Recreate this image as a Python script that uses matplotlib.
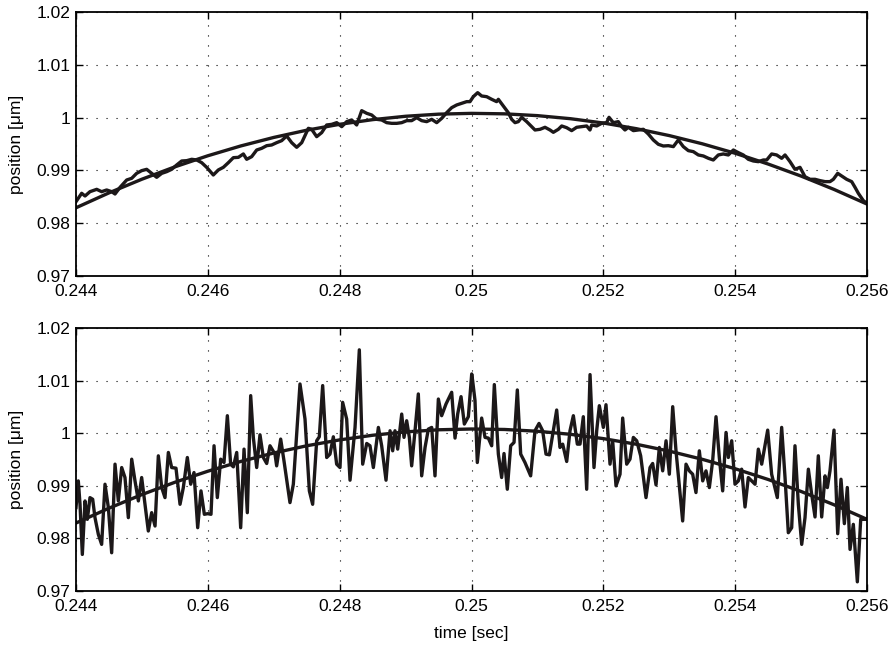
import matplotlib.pyplot as plt
from matplotlib.ticker import FuncFormatter

# fitted parabola (same fit drawn in both panels)
fit_t = [0.2440, 0.2445, 0.2450, 0.2455, 0.2460, 0.2465, 0.2470, 0.2475, 0.2480,
         0.2485, 0.2490, 0.2495, 0.2500, 0.2505, 0.2510, 0.2515, 0.2520, 0.2525,
         0.2530, 0.2535, 0.2540, 0.2545, 0.2550, 0.2555, 0.2560]
fit_pos = [0.98292, 0.98574, 0.98833, 0.99067, 0.99277, 0.99463, 0.99624, 0.99761,
           0.99873, 0.99961, 1.00025, 1.00065, 1.00080, 1.00071, 1.00037, 0.99979,
           0.99897, 0.99790, 0.99659, 0.99504, 0.99324, 0.99120, 0.98892, 0.98639,
           0.98362]

# filtered position measurement
top_t = [0.244000, 0.244086, 0.244137, 0.244212, 0.244314, 0.244389, 0.244465, 0.244541,
         0.244592, 0.244668, 0.244769, 0.244845, 0.244920, 0.244996, 0.245072, 0.245148,
         0.245224, 0.245300, 0.245376, 0.245451, 0.245527, 0.245603, 0.245679, 0.245755,
         0.245831, 0.245907, 0.245982, 0.246083, 0.246159, 0.246235, 0.246311, 0.246387,
         0.246463, 0.246539, 0.246589, 0.246665, 0.246741, 0.246817, 0.246893, 0.246968,
         0.247044, 0.247120, 0.247196, 0.247272, 0.247348, 0.247424, 0.247525, 0.247575,
         0.247651, 0.247727, 0.247803, 0.247879, 0.247955, 0.248031, 0.248106, 0.248182,
         0.248258, 0.248334, 0.248410, 0.248486, 0.248561, 0.248637, 0.248713, 0.248789,
         0.248865, 0.248941, 0.249017, 0.249092, 0.249168, 0.249244, 0.249320, 0.249396,
         0.249472, 0.249548, 0.249623, 0.249699, 0.249775, 0.249851, 0.249927,
         0.249977, 0.250027, 0.250093, 0.250154, 0.250230, 0.250306, 0.250381, 0.250407,
         0.250483, 0.250558, 0.250609, 0.250660, 0.250710, 0.250761, 0.250837, 0.250912,
         0.250963, 0.251039, 0.251115, 0.251191, 0.251241, 0.251317, 0.251368, 0.251443,
         0.251519, 0.251595, 0.251671, 0.251747, 0.251797, 0.251823, 0.251899, 0.251974,
         0.252050, 0.252086, 0.252151, 0.252227, 0.252278, 0.252328, 0.252379, 0.252455,
         0.252531, 0.252606, 0.252682, 0.252758, 0.252834, 0.252910, 0.252986, 0.253062,
         0.253137, 0.253213, 0.253289, 0.253365, 0.253441, 0.253517, 0.253593, 0.253668,
         0.253744, 0.253820, 0.253896, 0.253972, 0.254048, 0.254123, 0.254199, 0.254275,
         0.254351, 0.254427, 0.254478, 0.254553, 0.254629, 0.254705, 0.254756, 0.254832,
         0.254907, 0.254983, 0.255059, 0.255135, 0.255211, 0.255287, 0.255363, 0.255438,
         0.255489, 0.255555, 0.255615, 0.255691, 0.255767, 0.255818, 0.255868, 0.255944,
         0.256000]
top_pos = [0.98408, 0.98566, 0.98515, 0.98597, 0.98641, 0.98597, 0.98629, 0.98597,
           0.98553, 0.98679, 0.98818, 0.98850, 0.98944, 0.98995, 0.99020, 0.98944,
           0.98869, 0.98944, 0.98976, 0.99020, 0.99102, 0.99178, 0.99184, 0.99210,
           0.99197, 0.99146, 0.99058, 0.98913, 0.99008, 0.99058, 0.99146, 0.99241,
           0.99247, 0.99311, 0.99210, 0.99260, 0.99386, 0.99418, 0.99468, 0.99481,
           0.99525, 0.99563, 0.99652, 0.99525, 0.99437, 0.99525, 0.99797, 0.99778,
           0.99639, 0.99715, 0.99860, 0.99872, 0.99904, 0.99828, 0.99923, 0.99955,
           0.99860, 1.00131, 1.00081, 1.00049, 0.99967, 0.99955, 0.99904, 0.99891,
           0.99891, 0.99904, 0.99942, 0.99942, 0.99999, 0.99942, 0.99923, 0.99967,
           0.99904, 0.99986, 1.00093, 1.00188, 1.00239, 1.00270, 1.00302,
           1.00302, 1.00396, 1.00472, 1.00409, 1.00396, 1.00346, 1.00302, 1.00346,
           1.00220, 1.00093, 0.99967, 0.99904, 0.99923, 1.00005, 0.99923, 0.99828,
           0.99765, 0.99778, 0.99816, 0.99765, 0.99721, 0.99778, 0.99841, 0.99809,
           0.99753, 0.99816, 0.99828, 0.99841, 0.99765, 0.99860, 0.99841, 0.99891,
           0.99904, 1.00005, 0.99904, 0.99923, 0.99828, 0.99765, 0.99816, 0.99753,
           0.99765, 0.99778, 0.99689, 0.99576, 0.99494, 0.99462, 0.99468, 0.99450,
           0.99576, 0.99450, 0.99374, 0.99355, 0.99292, 0.99273, 0.99229, 0.99197,
           0.99292, 0.99311, 0.99292, 0.99386, 0.99336, 0.99292, 0.99210, 0.99178,
           0.99165, 0.99197, 0.99197, 0.99311, 0.99292, 0.99229, 0.99292, 0.99165,
           0.99020, 0.99058, 0.98881, 0.98831, 0.98831, 0.98806, 0.98787, 0.98787,
           0.98831, 0.98944, 0.98894, 0.98831, 0.98787, 0.98679, 0.98566, 0.98427,
           0.98376]

# raw position measurement
bot_t = [0.244000, 0.244035, 0.244061, 0.244096, 0.244137, 0.244172, 0.244212, 0.244253,
         0.244288, 0.244339, 0.244389, 0.244440, 0.244491, 0.244541, 0.244592, 0.244642,
         0.244693, 0.244743, 0.244794, 0.244845, 0.244895, 0.244946, 0.244996, 0.245047,
         0.245097, 0.245148, 0.245199, 0.245249, 0.245300, 0.245350, 0.245401, 0.245451,
         0.245517, 0.245578, 0.245628, 0.245689, 0.245740, 0.245790, 0.245846, 0.245896,
         0.245947, 0.245998, 0.246048, 0.246094, 0.246144, 0.246195, 0.246245, 0.246296,
         0.246346, 0.246387, 0.246438, 0.246498, 0.246549, 0.246599, 0.246650, 0.246690,
         0.246741, 0.246791, 0.246842, 0.246893, 0.246943, 0.247019,
         0.247044, 0.247105, 0.247155, 0.247246, 0.247297, 0.247398, 0.247474, 0.247540,
         0.247590, 0.247651, 0.247691, 0.247742, 0.247803, 0.247853, 0.247904, 0.247954,
         0.248005, 0.248045, 0.248106, 0.248157, 0.248233, 0.248298, 0.248349, 0.248410,
         0.248460, 0.248511, 0.248587, 0.248637, 0.248703, 0.248764, 0.248804, 0.248839,
         0.248880, 0.248941, 0.248976, 0.249016, 0.249057, 0.249092, 0.249143, 0.249193,
         0.249244, 0.249295, 0.249345, 0.249396, 0.249446, 0.249497, 0.249547, 0.249613,
         0.249699, 0.249750, 0.249790, 0.249841, 0.249891, 0.249952, 0.250003,
         0.250017, 0.250053, 0.250088, 0.250154, 0.250205, 0.250255, 0.250306, 0.250346,
         0.250407, 0.250457, 0.250493, 0.250543, 0.250594, 0.250645, 0.250695, 0.250746,
         0.250811, 0.250897, 0.250963, 0.251024, 0.251079, 0.251130, 0.251181, 0.251241,
         0.251292, 0.251342, 0.251383, 0.251444, 0.251494, 0.251545, 0.251605, 0.251646,
         0.251696, 0.251747, 0.251798, 0.251858, 0.251899, 0.251939, 0.252000, 0.252040,
         0.252101, 0.252141, 0.252192, 0.252253, 0.252293, 0.252354, 0.252404, 0.252455,
         0.252506, 0.252566, 0.252647, 0.252708, 0.252748, 0.252799, 0.252849, 0.252900,
         0.252951, 0.253001, 0.253052,
         0.253102, 0.253203, 0.253254, 0.253304, 0.253355, 0.253405, 0.253456, 0.253507,
         0.253557, 0.253608, 0.253658, 0.253709, 0.253759, 0.253810, 0.253861, 0.253896,
         0.253947, 0.253997, 0.254048, 0.254098, 0.254149, 0.254199, 0.254250, 0.254301,
         0.254351, 0.254402, 0.254493, 0.254553, 0.254639, 0.254705, 0.254756, 0.254806,
         0.254857, 0.254907, 0.254958, 0.255009, 0.255059, 0.255110, 0.255160, 0.255211,
         0.255261, 0.255312, 0.255363, 0.255398, 0.255438, 0.255499, 0.255555, 0.255605,
         0.255656, 0.255701, 0.255742, 0.255792, 0.255853, 0.255904, 0.255969, 0.256000]
bot_pos = [0.98585, 0.99093, 0.98648, 0.97695, 0.98712, 0.98362, 0.98775, 0.98744,
           0.98394, 0.98076, 0.97886, 0.99030, 0.98585, 0.97727, 0.99411, 0.98712,
           0.99347, 0.99157, 0.98394, 0.99506, 0.99093, 0.98712, 0.99157, 0.98648,
           0.98140, 0.98489, 0.98235, 0.99570, 0.98966, 0.98775, 0.99634, 0.99347,
           0.99335, 0.98648, 0.98966, 0.99538, 0.99030, 0.99252, 0.98203, 0.98903,
           0.98458, 0.98470, 0.98458, 0.99761, 0.98775, 0.99506, 0.99443, 1.00333,
           0.99411, 0.99360, 0.99634, 0.98203, 0.99697, 0.98489, 1.00714, 0.99920,
           0.99347, 0.99970, 0.99538, 0.99424, 0.99761, 0.99602,
           0.99379, 0.99888, 0.99475, 0.98680, 0.99030, 1.00936, 1.00269, 0.98903,
           0.98648, 0.99856, 0.99932, 1.00905, 0.99538, 0.99602, 0.99932, 0.99411,
           0.99347, 1.00587, 1.00269, 0.99106, 1.00110, 1.01585, 0.99411, 0.99805,
           0.99761, 0.99347, 1.00110, 0.99761, 0.99106, 1.00047, 0.99665, 1.00047,
           0.99697, 1.00364, 0.99920, 1.00237, 0.99920, 0.99379, 1.00047, 1.00746,
           0.99189, 0.99729, 1.00078, 1.00110, 0.99189, 1.00650, 1.00333, 1.00555,
           1.00778, 0.99907, 1.00364, 1.00695, 1.00174, 1.00314, 1.01127,
           1.01000, 1.00619, 0.99443, 1.00288, 0.99920, 0.99907, 0.99761, 1.00924,
           0.99602, 0.99157, 0.99614, 0.98934, 0.99761, 0.99824, 1.00822, 0.99602,
           0.99443, 0.99189, 1.00047, 1.00186, 1.00047, 0.99602, 0.99589, 1.00047,
           1.00441, 0.99729, 0.99792, 0.99462, 1.00047, 1.00333, 0.99792, 0.99792,
           1.00314, 0.98934, 1.01114, 0.99347, 1.00047, 1.00523, 1.00110, 1.00542,
           0.99411, 0.99856, 0.98998, 0.99220, 1.00288, 0.99411, 0.99506, 0.99920,
           0.99856, 0.99570, 0.98775, 0.99347, 0.99424, 0.99017, 0.99729, 0.99284,
           0.99856, 0.99220, 1.00504,
           0.99665, 0.98331, 0.99411, 0.99284, 0.99220, 0.98871, 0.99665, 0.99093,
           0.99284, 0.98966, 0.99475, 1.00314, 0.99538, 0.98903, 1.00015, 0.99538,
           0.99856, 0.99030, 0.99093, 0.99316, 0.98597, 0.99157, 0.99093, 0.99030,
           0.99697, 0.99411, 1.00059, 0.99220, 0.98775, 1.00110, 0.99157, 0.98108,
           0.98203, 0.99761, 0.98648, 0.97886, 0.98394, 0.99316, 0.98839, 0.98407,
           0.99570, 0.98407, 0.99189, 0.98966, 0.99284, 1.00059, 0.98089, 0.99125,
           0.98280, 0.98966, 0.97790, 0.98267, 0.97174, 0.98362, 0.98362, 0.98362]

xticks = [0.244, 0.246, 0.248, 0.25, 0.252, 0.254, 0.256]
yticks = [0.97, 0.98, 0.99, 1.0, 1.01, 1.02]

line_color = "#1c1819"

plt.rcParams["font.family"] = ["Liberation Sans", "DejaVu Sans"]

fig = plt.figure(figsize=(8.91, 6.48), dpi=100)
ax_top = fig.add_axes([0.0853, 0.5741, 0.8878, 0.4074])
ax_bot = fig.add_axes([0.0853, 0.0880, 0.8878, 0.4058])

fmt = FuncFormatter(lambda v, pos: f"{v:g}")

for ax, t, pos in [(ax_top, top_t, top_pos), (ax_bot, bot_t, bot_pos)]:
    ax.plot(t, pos, color=line_color, linewidth=2.4)
    ax.plot(fit_t, fit_pos, color=line_color, linewidth=2.4)
    ax.set_xlim(0.244, 0.256)
    ax.set_ylim(0.97, 1.02)
    ax.set_xticks(xticks)
    ax.set_yticks(yticks)
    ax.xaxis.set_major_formatter(fmt)
    ax.yaxis.set_major_formatter(fmt)
    ax.grid(True, color="black", linestyle=(0, (1, 8)), linewidth=0.8)
    ax.tick_params(direction="in", top=True, right=True, length=5, width=1,
                   labelsize=12.5)
    ax.tick_params(axis="y", pad=4)
    ax.tick_params(axis="x", pad=5.5)
    for sp in ax.spines.values():
        sp.set_linewidth(1.3)
    ax.set_ylabel("position [μm]", fontsize=12.5, labelpad=9)

ax_bot.set_xlabel("time [sec]", fontsize=12.5, labelpad=9)

plt.savefig("out.png", dpi=100)
